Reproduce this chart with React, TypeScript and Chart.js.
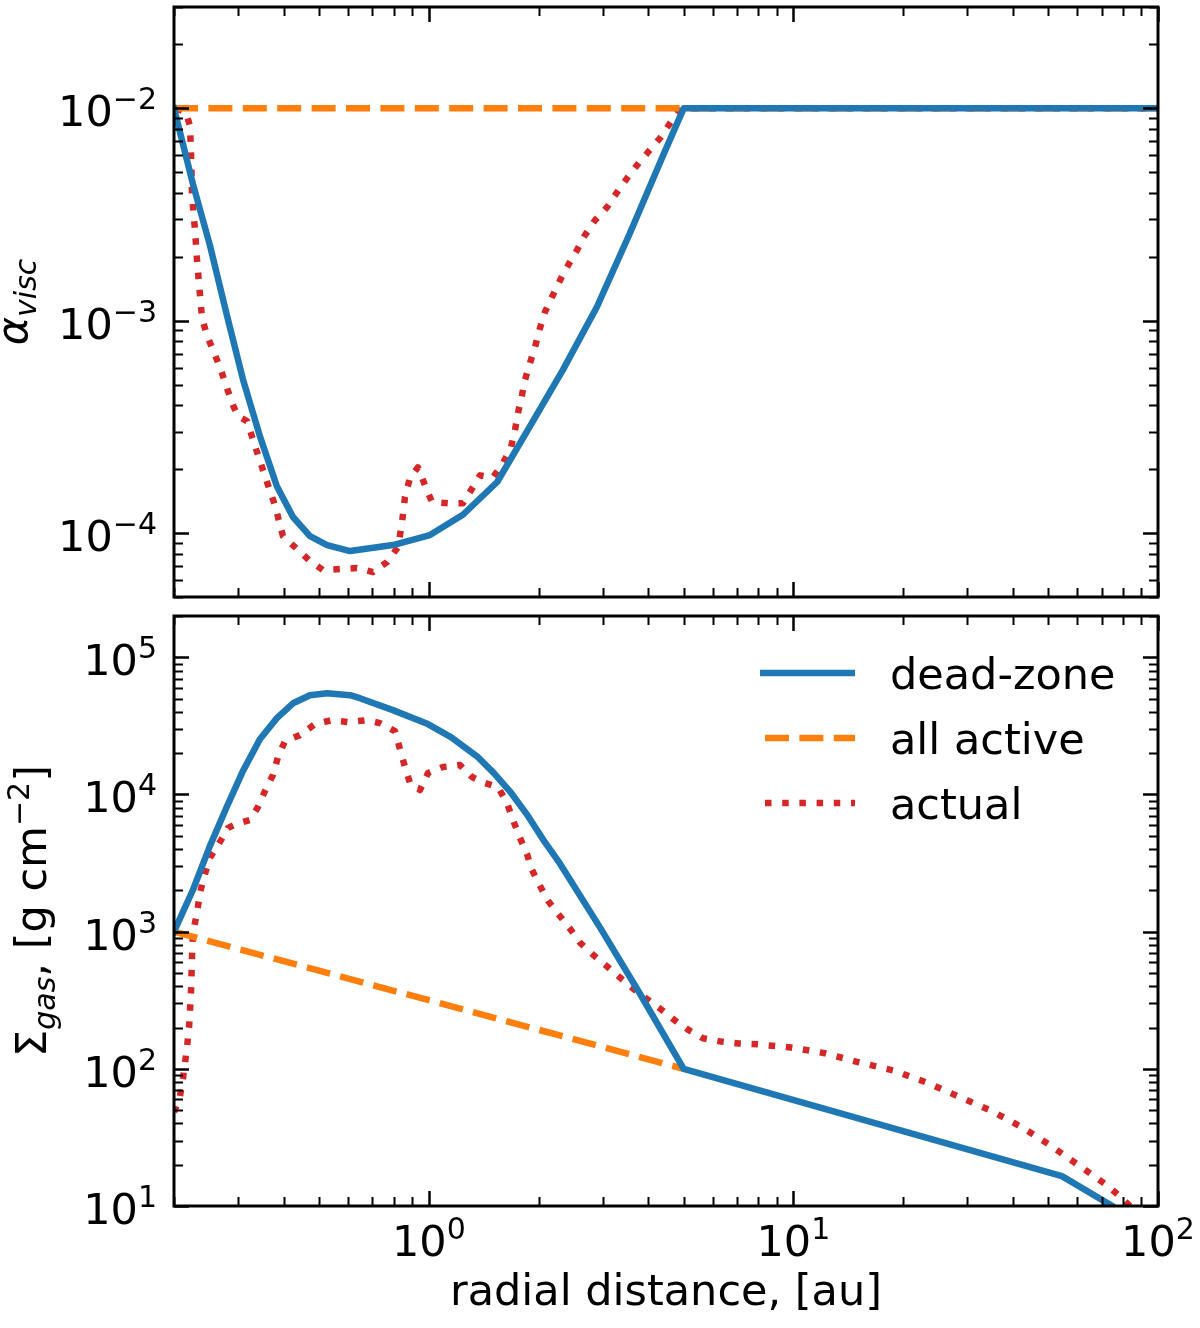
import React, { useEffect, useRef } from "react";
import Chart from "chart.js/auto";

// radial distance in au
const alphaDeadR = [0.2, 0.2255, 0.251, 0.279, 0.309, 0.344, 0.383, 0.424, 0.472, 0.526, 0.608, 0.797, 1.007, 1.24, 1.54, 1.89, 2.33, 2.89, 3.56, 4.39, 5.0, 100];
const alphaDeadV = [1e-2, 4.39e-3, 2.26e-3, 1.07e-3, 5.31e-4, 2.86e-4, 1.66e-4, 1.19e-4, 9.68e-5, 8.78e-5, 8.23e-5, 8.78e-5, 9.79e-5, 1.22e-4, 1.74e-4, 3.16e-4, 5.85e-4, 1.16e-3, 2.58e-3, 6.0e-3, 1e-2, 1e-2];

const alphaActiveR = [0.2, 100];
const alphaActiveV = [1e-2, 1e-2];

const alphaActualR = [0.2025, 0.2158, 0.2213, 0.2227, 0.2241, 0.2284, 0.2313, 0.2342, 0.2387, 0.2463, 0.2559, 0.2674, 0.279, 0.2903, 0.2996, 0.3171, 0.3378, 0.3598, 0.3784, 0.398, 0.4349, 0.472, 0.5125, 0.5705, 0.6353, 0.7028, 0.7678, 0.8231, 0.8437, 0.8602, 0.8877, 0.9337, 0.9759, 1.02, 1.128, 1.24, 1.322, 1.381, 1.499, 1.597, 1.681, 1.723, 1.756, 1.801, 1.835, 1.894, 1.955, 2.017, 2.082, 2.176, 2.29, 2.408, 2.549, 2.681, 2.856, 3.081, 3.281, 3.495, 3.723, 3.99, 4.305, 4.586, 4.792, 5.0, 100];
const alphaActualV = [1e-2, 9.58e-3, 8.23e-3, 6.14e-3, 3.9e-3, 2.67e-3, 1.93e-3, 1.5e-3, 1.03e-3, 8.55e-4, 7.26e-4, 6.04e-4, 4.86e-4, 4.0e-4, 3.55e-4, 3.37e-4, 2.41e-4, 1.74e-4, 1.35e-4, 9.68e-5, 8.41e-5, 7.38e-5, 6.7e-5, 6.77e-5, 6.84e-5, 6.55e-5, 7.3e-5, 8.59e-5, 1.11e-4, 1.48e-4, 1.82e-4, 2.04e-4, 1.68e-4, 1.4e-4, 1.38e-4, 1.38e-4, 1.65e-4, 1.87e-4, 1.83e-4, 2.13e-4, 2.54e-4, 3.05e-4, 3.67e-4, 4.46e-4, 5.25e-4, 6.31e-4, 7.5e-4, 9.22e-4, 1.1e-3, 1.29e-3, 1.55e-3, 1.82e-3, 2.15e-3, 2.53e-3, 2.97e-3, 3.42e-3, 4.02e-3, 4.68e-3, 5.39e-3, 6.21e-3, 7.23e-3, 8.5e-3, 9.47e-3, 1e-2, 1e-2];

const sigmaDeadR = [0.2, 0.2255, 0.251, 0.279, 0.309, 0.344, 0.383, 0.424, 0.472, 0.526, 0.608, 0.647, 0.797, 0.994, 1.15, 1.364, 1.508, 1.68, 1.87, 2.06, 2.29, 2.95, 3.79, 5.0, 54.5, 74, 100];
const sigmaDeadV = [1000, 2020, 4220, 8110, 14800, 25300, 36000, 46200, 52900, 54700, 52900, 50300, 41200, 32600, 26200, 18700, 14300, 10300, 6980, 4670, 3130, 1070, 354, 100, 16.5, 10.2, 6.1];

const sigmaActiveR = [0.2, 5.0];
const sigmaActiveV = [1000, 100];

const sigmaActualR = [0.2, 0.2077, 0.2117, 0.2171, 0.2199, 0.2227, 0.2241, 0.2255, 0.2313, 0.2357, 0.2432, 0.251, 0.2674, 0.2812, 0.2977, 0.3232, 0.3399, 0.3553, 0.3737, 0.3857, 0.4031, 0.4431, 0.4871, 0.5424, 0.6001, 0.6765, 0.7345, 0.8074, 0.8335, 0.8602, 0.8877, 0.9456, 0.9945, 1.0935, 1.217, 1.313, 1.426, 1.547, 1.638, 1.701, 1.778, 1.858, 1.918, 2.017, 2.122, 2.261, 2.438, 2.597, 2.838, 3.061, 3.344, 3.607, 3.941, 4.305, 4.733, 5.171, 5.647, 6.328, 7.089, 7.943, 9.846, 12.2, 15.13, 18.75, 23.1, 28.27, 34.6, 42.35, 50.5, 61.1, 72.9, 79.6, 85.9];
const sigmaActualV = [48.3, 63.1, 85.3, 143, 200, 366, 658, 984, 1375, 1923, 2641, 3455, 4517, 5706, 6103, 6523, 8110, 10600, 13870, 18740, 24490, 27080, 32560, 34810, 33670, 34810, 33110, 28950, 21420, 15850, 12120, 10780, 14330, 15850, 16390, 13410, 12120, 11340, 8675, 6523, 4827, 3693, 2825, 2160, 1681, 1352, 1052, 832, 669, 566, 463, 391, 326, 275, 225, 191, 167, 158, 153, 151, 143, 130, 111.5, 97.5, 79.8, 63.1, 49.9, 37.5, 27.8, 19.5, 14.0, 11.4, 9.35];

// axis limits and labelled decades
const xLimits = [0.2, 100];
const alphaLimits = [5e-5, 3e-2];
const sigmaLimits = [10, 2e5];
const xTickPowers = [0, 1, 2];
const alphaTickPowers = [-4, -3, -2];
const sigmaTickPowers = [1, 2, 3, 4, 5];

const legendLabels = ["dead-zone", "all active", "actual"];

const BLUE = "#1f77b4";
const ORANGE = "#ff7f0e";
const RED = "#d62728";
const FONT = '"DejaVu Sans", sans-serif';
const FS = 43;
const SUB = 30;
const LW = 6.5;
const DASH = [24, 10.4];
const DOT = [6.5, 10.7];

type Seg = { t: string; size: number; italic?: boolean; dy?: number };

const setFont = (ctx: CanvasRenderingContext2D, s: Seg) => {
    ctx.font = `${s.italic ? "italic " : ""}${s.size}px ${FONT}`;
};

const segsWidth = (ctx: CanvasRenderingContext2D, segs: Seg[]) =>
    segs.reduce((w, s) => {
        setFont(ctx, s);
        return w + ctx.measureText(s.t).width;
    }, 0);

const drawSegs = (ctx: CanvasRenderingContext2D, segs: Seg[], x: number, y: number) => {
    let cx = x;
    for (const s of segs) {
        setFont(ctx, s);
        ctx.fillText(s.t, cx, y + (s.dy || 0));
        cx += ctx.measureText(s.t).width;
    }
};

const powLabel = (p: number): Seg[] => [
    { t: "10", size: FS },
    { t: String(p).replace("-", "\u2212"), size: SUB, dy: -17 },
];

const logTicks = (min: number, max: number) => {
    const out: { v: number; major: boolean }[] = [];
    for (let p = Math.floor(Math.log10(min)); p <= Math.ceil(Math.log10(max)); p++) {
        for (let m = 1; m <= 9; m++) {
            const v = m * Math.pow(10, p);
            if (v >= min * 0.9999 && v <= max * 1.0001) out.push({ v, major: m === 1 });
        }
    }
    return out;
};

interface PanelCfg {
    yPowers: number[];
    xLabels: boolean;
    title: Seg[];
    titleX: number;
    legend: boolean;
}

const axesPlugin = (cfg: PanelCfg) => ({
    id: "mplAxes",
    afterDraw(chart: any) {
        const ctx: CanvasRenderingContext2D = chart.ctx;
        const { left, right, top, bottom } = chart.chartArea;
        const xs = chart.scales.x;
        const ys = chart.scales.y;
        ctx.save();
        ctx.strokeStyle = "#000";
        ctx.fillStyle = "#000";
        ctx.lineCap = "butt";

        // ticks pointing inwards on all four sides
        for (const t of logTicks(xs.min, xs.max)) {
            const px = Math.round(xs.getPixelForValue(t.v)) + 0.5;
            const len = t.major ? 15 : 9;
            ctx.lineWidth = t.major ? 2.5 : 2;
            ctx.beginPath();
            ctx.moveTo(px, bottom);
            ctx.lineTo(px, bottom - len);
            ctx.moveTo(px, top);
            ctx.lineTo(px, top + len);
            ctx.stroke();
        }
        for (const t of logTicks(ys.min, ys.max)) {
            const py = Math.round(ys.getPixelForValue(t.v)) + 0.5;
            const len = t.major ? 15 : 9;
            ctx.lineWidth = t.major ? 2.5 : 2;
            ctx.beginPath();
            ctx.moveTo(left, py);
            ctx.lineTo(left + len, py);
            ctx.moveTo(right, py);
            ctx.lineTo(right - len, py);
            ctx.stroke();
        }

        ctx.lineWidth = 3;
        ctx.strokeRect(left, top, right - left, bottom - top);

        ctx.textBaseline = "alphabetic";
        ctx.textAlign = "left";

        for (const p of cfg.yPowers) {
            const py = ys.getPixelForValue(Math.pow(10, p));
            const segs = powLabel(p);
            drawSegs(ctx, segs, 157 - segsWidth(ctx, segs), py + 18);
        }

        if (cfg.xLabels) {
            for (const p of xTickPowers) {
                const px = xs.getPixelForValue(Math.pow(10, p));
                const segs = powLabel(p);
                drawSegs(ctx, segs, px - segsWidth(ctx, segs) / 2, bottom + 50);
            }
            const xt: Seg[] = [{ t: "radial distance, [au]", size: FS }];
            drawSegs(ctx, xt, (left + right) / 2 - segsWidth(ctx, xt) / 2, bottom + 99);
        }

        // rotated y title
        ctx.save();
        ctx.translate(cfg.titleX, (top + bottom) / 2);
        ctx.rotate(-Math.PI / 2);
        drawSegs(ctx, cfg.title, -segsWidth(ctx, cfg.title) / 2, 0);
        ctx.restore();

        if (cfg.legend) {
            const styles = [
                { c: BLUE, d: [] as number[] },
                { c: ORANGE, d: DASH },
                { c: RED, d: DOT },
            ];
            legendLabels.forEach((label, i) => {
                const ly = top + 57 + i * 65;
                ctx.save();
                ctx.strokeStyle = styles[i].c;
                ctx.lineWidth = LW;
                ctx.setLineDash(styles[i].d);
                ctx.beginPath();
                ctx.moveTo(i === 0 ? 760 : 765, ly);
                ctx.lineTo(855, ly);
                ctx.stroke();
                ctx.restore();
                drawSegs(ctx, [{ t: label, size: FS }], 890, ly + 16);
            });
        }
        ctx.restore();
    },
});

const toPoints = (r: number[], v: number[]) => r.map((x, i) => ({ x, y: v[i] }));

const lineSet = (label: string, r: number[], v: number[], color: string, dash: number[]) => ({
    label,
    data: toPoints(r, v),
    borderColor: color,
    backgroundColor: color,
    borderWidth: LW,
    borderDash: dash,
    borderCapStyle: dash.length ? "butt" : "square",
    borderJoinStyle: "round",
    pointRadius: 0,
    tension: 0,
    fill: false,
    clip: 0,
});

interface PanelProps {
    top: number;
    height: number;
    padding: { left: number; right: number; top: number; bottom: number };
    yLimits: number[];
    datasets: any[];
    cfg: PanelCfg;
}

const Panel = (props: PanelProps) => {
    const { top, height, padding, yLimits, datasets, cfg } = props;
    const canvasRef = useRef<HTMLCanvasElement | null>(null);
    const chartRef = useRef<Chart | null>(null);

    useEffect(() => {
        if (chartRef.current) {
            chartRef.current.destroy();
        }
        const ctx = canvasRef.current?.getContext("2d");
        if (ctx) {
            chartRef.current = new Chart(ctx, {
                type: "line",
                data: { datasets },
                options: {
                    responsive: true,
                    maintainAspectRatio: false,
                    animation: false,
                    events: [],
                    layout: { padding },
                    plugins: {
                        legend: { display: false },
                        tooltip: { enabled: false },
                    },
                    scales: {
                        x: { type: "logarithmic", min: xLimits[0], max: xLimits[1], display: false },
                        y: { type: "logarithmic", min: yLimits[0], max: yLimits[1], display: false },
                    },
                },
                plugins: [axesPlugin(cfg)],
            } as any);
        }
        return () => {
            if (chartRef.current) {
                chartRef.current.destroy();
                chartRef.current = null;
            }
        };
    }, []);

    return (
        <div style={{ position: "absolute", left: 0, top, width: 1200, height }}>
            <canvas ref={canvasRef} />
        </div>
    );
};

const App = () => {
    const alphaSets = [
        lineSet("dead-zone", alphaDeadR, alphaDeadV, BLUE, []),
        lineSet("all active", alphaActiveR, alphaActiveV, ORANGE, DASH),
        lineSet("actual", alphaActualR, alphaActualV, RED, DOT),
    ];
    const sigmaSets = [
        lineSet("dead-zone", sigmaDeadR, sigmaDeadV, BLUE, []),
        lineSet("all active", sigmaActiveR, sigmaActiveV, ORANGE, DASH),
        lineSet("actual", sigmaActualR, sigmaActualV, RED, DOT),
    ];

    return (
        <div style={{ position: "absolute", left: 0, top: 0, width: 1200, height: 1328, background: "#fff" }}>
            <Panel
                top={0}
                height={606}
                padding={{ left: 174, right: 42, top: 7, bottom: 9 }}
                yLimits={alphaLimits}
                datasets={alphaSets}
                cfg={{
                    yPowers: alphaTickPowers,
                    xLabels: false,
                    title: [
                        { t: "\u03b1", size: FS, italic: true },
                        { t: "visc", size: SUB, italic: true, dy: 9 },
                    ],
                    titleX: 27,
                    legend: false,
                }}
            />
            <Panel
                top={606}
                height={722}
                padding={{ left: 174, right: 42, top: 10, bottom: 122 }}
                yLimits={sigmaLimits}
                datasets={sigmaSets}
                cfg={{
                    yPowers: sigmaTickPowers,
                    xLabels: true,
                    title: [
                        { t: "\u03a3", size: FS },
                        { t: "gas", size: SUB, italic: true, dy: 9 },
                        { t: ", [g cm", size: FS },
                        { t: "\u22122", size: SUB, dy: -17 },
                        { t: "]", size: FS },
                    ],
                    titleX: 46,
                    legend: true,
                }}
            />
        </div>
    );
};

export default App;
